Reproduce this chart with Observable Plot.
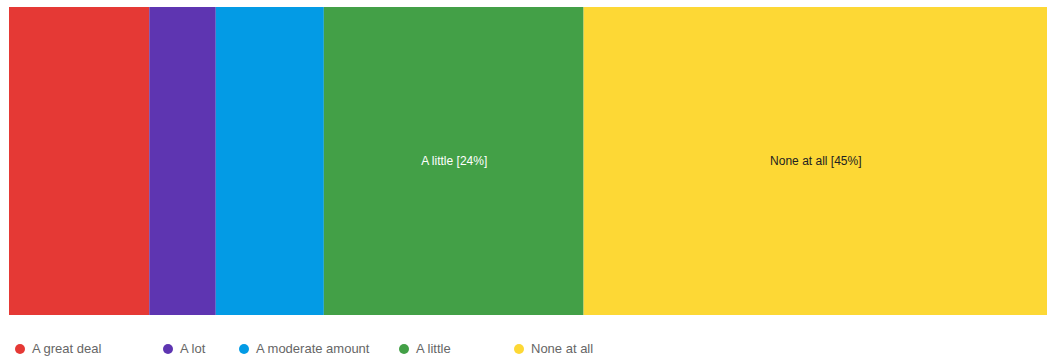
<!DOCTYPE html>
<html>
<head>
<meta charset="utf-8">
<script src="https://cdn.jsdelivr.net/npm/d3@7"></script>
<script src="https://cdn.jsdelivr.net/npm/@observablehq/plot@0.6"></script>
<style>
  html, body { margin: 0; padding: 0; background: #fff; }
  body { width: 1047px; height: 360px; overflow: hidden; font-family: "Liberation Sans", Arial, sans-serif; }
  #legend { position: relative; height: 22px; margin-top: 16px; font-size: 13px; color: #666; }
  .item { display: flex; align-items: center; position: absolute; top: 0; }
  .dot { width: 10px; height: 10px; border-radius: 50%; margin-right: 7px; }
</style>
</head>
<body>
<div id="chart"></div>
<div id="legend"></div>
<script>
const categories = ["A great deal", "A lot", "A moderate amount", "A little", "None at all"];
const values = [13.5, 6.4, 10.4, 25, 44.6];
const labels = ["", "", "", "A little [24%]", "None at all [45%]"];
const colors = ["#e53935", "#5e35b1", "#039be5", "#43a047", "#fdd835"];
const labelColors = ["#ffffff", "#ffffff", "#ffffff", "#ffffff", "#222222"];
const legendX = [15, 163, 239, 399, 514];

const data = categories.map((c, i) => ({category: c, value: values[i], label: labels[i], tc: labelColors[i], order: i}));
const total = d3.sum(values);

const chart = Plot.plot({
  width: 1047,
  height: 325,
  marginLeft: 9,
  marginRight: 0,
  marginTop: 7,
  marginBottom: 10,
  x: {domain: [0, total], axis: null},
  y: {axis: null},
  color: {domain: categories, range: colors},
  style: {fontFamily: "'Liberation Sans', Arial, sans-serif", background: "#fff"},
  marks: [
    Plot.barX(data, Plot.stackX({x: "value", fill: "category", order: "order", inset: 0})),
    Plot.text(data, Plot.stackX({x: "value", text: "label", fill: "tc", order: "order", fontSize: 12, textAnchor: "middle"}))
  ]
});
document.getElementById("chart").appendChild(chart);

const legend = document.getElementById("legend");
categories.forEach((c, i) => {
  const item = document.createElement("div");
  item.className = "item";
  item.style.left = legendX[i] + "px";
  const dot = document.createElement("span");
  dot.className = "dot";
  dot.style.background = colors[i];
  const txt = document.createElement("span");
  txt.textContent = c;
  item.appendChild(dot);
  item.appendChild(txt);
  legend.appendChild(item);
});
</script>
</body>
</html>
